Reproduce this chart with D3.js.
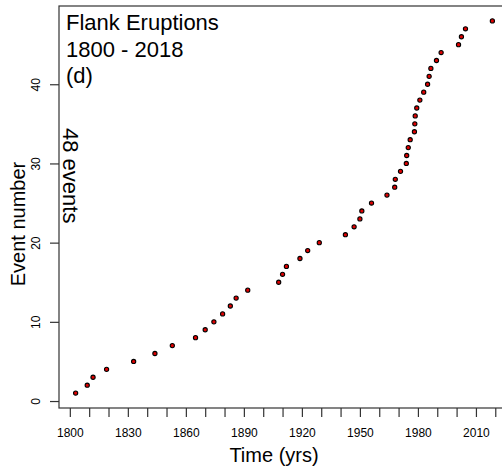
<!DOCTYPE html>
<html>
<head>
<meta charset="utf-8">
<script src="https://cdn.jsdelivr.net/npm/d3@7"></script>
<style>
body { margin: 0; background: #fff; }
text { font-family: "Liberation Sans", Arial, sans-serif; fill: #000; }
</style>
</head>
<body>
<svg id="chart" width="502" height="468"></svg>
<script>
// year of each flank eruption, event number is the position in the list
var eventYears = [1803, 1809, 1812, 1819, 1833, 1844, 1853, 1865, 1870, 1874.5,
	1879, 1883, 1886, 1892, 1908, 1910, 1912, 1919, 1923, 1929,
	1942.5, 1947, 1950, 1951, 1956, 1964, 1968, 1968.3, 1971, 1974,
	1974.2, 1975, 1976, 1978.2, 1978.4, 1978.6, 1979.4, 1981, 1983, 1985,
	1985.8, 1986.7, 1989.6, 1992, 2001, 2002.5, 2004.6, 2018.5];
var eventNumbers = d3.range(1, eventYears.length + 1);
var xTicks = d3.range(1800, 2021, 10);
var xTickLabels = [1800, 1830, 1860, 1890, 1920, 1950, 1980, 2010];
var yTicks = [0, 10, 20, 30, 40];
var titleLines = ["Flank Eruptions", "1800 - 2018", "(d)"];

var svg = d3.select("#chart");

var plotLeft = 59, plotTop = 6, plotRight = 509, plotBottom = 408;

// R style 4% padding on both axes
var x = d3.scaleLinear().domain([1794.4, 2027.1]).range([plotLeft, plotRight]);
var y = d3.scaleLinear().domain([-0.88, 49.88]).range([plotBottom, plotTop]);

// frame
svg.append("rect")
	.attr("x", plotLeft).attr("y", plotTop)
	.attr("width", plotRight - plotLeft).attr("height", plotBottom - plotTop)
	.attr("fill", "none")
	.attr("stroke", "#333")
	.attr("stroke-width", 1.2);

// x axis
var xAxis = d3.axisBottom(x)
	.tickValues(xTicks)
	.tickSize(9)
	.tickSizeOuter(0)
	.tickFormat(function(d) { return xTickLabels.indexOf(d) >= 0 ? d : ""; });
var gx = svg.append("g").attr("transform", "translate(0," + plotBottom + ")").call(xAxis);
gx.select(".domain").remove();
gx.selectAll(".tick line").attr("stroke", "#333").attr("stroke-width", 1.2);
gx.selectAll(".tick text")
	.attr("y", 29)
	.attr("dy", 0)
	.style("font-size", "12px")
	.style("font-family", "Liberation Sans, Arial, sans-serif")
	.attr("fill", "#000");

// y axis, labels turned like R's las=0
var yAxis = d3.axisLeft(y).tickValues(yTicks).tickSize(9).tickSizeOuter(0);
var gy = svg.append("g").attr("transform", "translate(" + plotLeft + ",0)").call(yAxis);
gy.select(".domain").remove();
gy.selectAll(".tick line").attr("stroke", "#333").attr("stroke-width", 1.2);
gy.selectAll(".tick text")
	.attr("x", 0).attr("y", 0).attr("dy", 0)
	.attr("text-anchor", "middle")
	.attr("transform", "translate(-19,0) rotate(-90)")
	.style("font-size", "12px")
	.style("font-family", "Liberation Sans, Arial, sans-serif")
	.attr("fill", "#000");

// axis titles
svg.append("text")
	.attr("x", 274).attr("y", 462)
	.attr("text-anchor", "middle")
	.style("font-size", "20px")
	.text("Time (yrs)");

svg.append("text")
	.attr("transform", "translate(25,224) rotate(-90)")
	.attr("text-anchor", "middle")
	.style("font-size", "20px")
	.text("Event number");

// corner annotations
svg.selectAll(".title")
	.data(titleLines)
	.enter().append("text")
	.attr("class", "title")
	.attr("x", 66)
	.attr("y", function(d, i) { return 30 + i * 26.5; })
	.style("font-size", "22px")
	.text(function(d) { return d; });

svg.append("text")
	.attr("transform", "translate(63,128) rotate(90)")
	.style("font-size", "22px")
	.text(eventYears.length + " events");

// points
svg.selectAll("circle.ev")
	.data(eventYears)
	.enter().append("circle")
	.attr("class", "ev")
	.attr("cx", function(d) { return x(d); })
	.attr("cy", function(d, i) { return y(eventNumbers[i]); })
	.attr("r", 2.1)
	.attr("fill", "#e00000")
	.attr("stroke", "#000")
	.attr("stroke-width", 1.1);
</script>
</body>
</html>
